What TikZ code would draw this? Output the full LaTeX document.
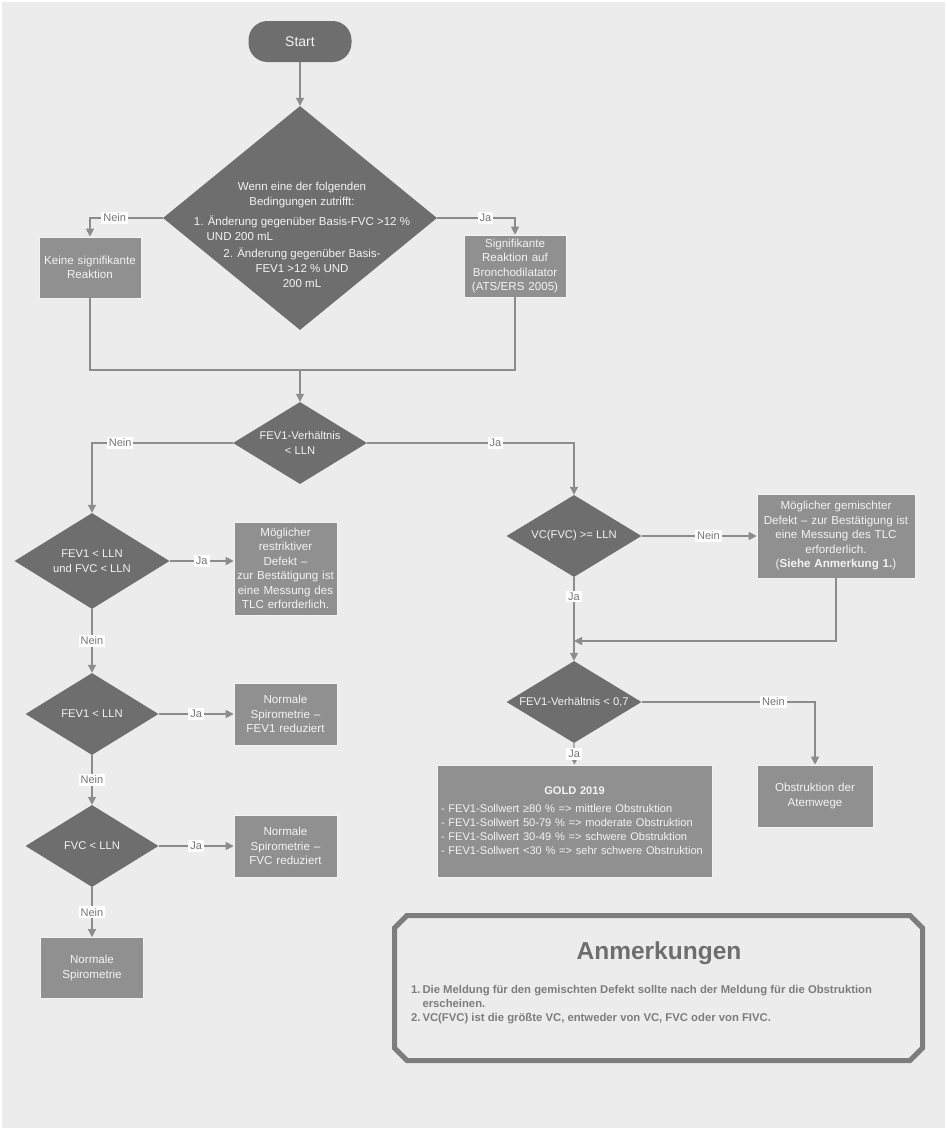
\documentclass[tikz,border=0pt]{standalone}
\usepackage{fontspec}
\setmainfont{Liberation Sans}
\usetikzlibrary{positioning,arrows.meta,shapes.geometric}
\definecolor{PageGray}{RGB}{236,236,236}
\definecolor{DarkShape}{RGB}{110,110,110}
\definecolor{BoxFill}{RGB}{144,144,144}
\definecolor{WireGray}{RGB}{140,140,140}
\definecolor{SoftWhite}{RGB}{243,243,243}
\definecolor{TagText}{RGB}{118,118,118}
\definecolor{NoteGray}{RGB}{125,125,125}
\tikzset{
  flow/.style={-{Triangle[length=8pt,width=8pt]},line width=1.2pt,draw=WireGray},
  wire/.style={line width=1.2pt,draw=WireGray},
  startbox/.style={rectangle,rounded corners=19pt,fill=DarkShape,text=SoftWhite,
    minimum width=103pt,minimum height=41pt,font=\fontsize{14}{16}\selectfont},
  decision/.style={diamond,fill=DarkShape,text=SoftWhite,inner sep=0pt,aspect=1.6,
    align=center,font=\fontsize{11.2}{14.5}\selectfont},
  dtext/.style={text=SoftWhite,align=center,inner sep=0pt,font=\fontsize{11.5}{15}\selectfont},
  box/.style={rectangle,fill=BoxFill,draw=SoftWhite,line width=0.6pt,text=SoftWhite,
    inner sep=2pt,align=center,font=\fontsize{11.6}{14.5}\selectfont},
  tag/.style={fill=white,text=TagText,inner sep=2pt,font=\fontsize{11}{12}\selectfont},
  noteline/.style={draw=NoteGray,line width=5pt},
  notetitle/.style={text=DarkShape,font=\bfseries\fontsize{24.5}{28}\selectfont},
  notetext/.style={text=NoteGray,inner sep=0pt,font=\bfseries\fontsize{11.3}{14}\selectfont}
}
\begin{document}
\begin{tikzpicture}[x=1pt,y=-1pt]
  \useasboundingbox (0,0) rectangle (947,1130);
  \fill[white] (0,0) rectangle (947,1130);
  \fill[PageGray] (2,2) rectangle (945,1128);

  % bronchodilator test
  \node[startbox] (start) at (300,41.5) {Start};
  \node[decision,minimum width=274pt,minimum height=224pt] (d1) at (300,218) {};
  \node[dtext] (d1t) at (302,235) {Wenn eine der folgenden\\Bedingungen zutrifft:\\[6pt]
    \begin{tabular}{@{}l@{}}1. Änderung gegenüber Basis-FVC >12 \%\\\hphantom{1.}\ UND 200 mL\end{tabular}\\[2pt]
    2. Änderung gegenüber Basis-\\FEV1 >12 \% UND\\200 mL};
  \node[box,minimum height=61pt,text width=98pt] (nosig) at (90,267.5) {Keine signifikante\\Reaktion};
  \node[box,minimum height=62pt,text width=98pt] (sig) at (515,266) {Signifikante\\Reaktion auf\\Bronchodilatator\\(ATS/ERS 2005)};
  \coordinate (merge) at (300,370);
  \draw[flow] (start) -- (d1);
  \draw[flow] (d1.west) -| node[tag,pos=0.33] (t1) {Nein} (nosig.north);
  \draw[flow] (d1.east) -| node[tag,pos=0.31] (t2) {Ja} (sig.north);
  \draw[wire] (nosig.south) |- (merge) -| (sig.south);

  % left column
  \node[decision,minimum width=134pt,minimum height=82pt] (d2) at (300,443) {FEV1-Verhältnis\\< LLN};
  \node[decision,minimum width=155pt,minimum height=96pt] (d3) at (92,561) {FEV1 < LLN\\und FVC < LLN};
  \node[box,minimum height=93pt,text width=99pt] (restr) at (285.5,568.5) {Möglicher\\restriktiver\\Defekt –\\zur Bestätigung ist\\eine Messung des\\TLC erforderlich.};
  \node[decision,minimum width=133pt,minimum height=82pt] (d5) at (92,714) {FEV1 < LLN};
  \node[box,minimum height=62pt,text width=99pt,right=75pt of d5] (fev1red) {Normale\\Spirometrie –\\FEV1 reduziert};
  \node[decision,minimum width=133pt,minimum height=82pt] (d6) at (92,846) {FVC < LLN};
  \node[box,minimum height=62pt,text width=99pt,right=75pt of d6] (fvcred) {Normale\\Spirometrie –\\FVC reduziert};
  \node[box,minimum height=61pt,text width=99pt,below=50pt of d6] (normal) {Normale\\Spirometrie};
  \draw[flow] (merge) -- (d2);
  \draw[flow] (d2.west) -| node[tag,pos=0.4] (t3) {Nein} (d3.north);
  \draw[flow] (d3.east) -- node[tag] (t4) {Ja} (d3.east -| restr.west);
  \draw[flow] (d3.south) -- node[tag] (t5) {Nein} (d5.north);
  \draw[flow] (d5.east) -- node[tag] (t6) {Ja} (fev1red.west);
  \draw[flow] (d5.south) -- node[tag] (t7) {Nein} (d6.north);
  \draw[flow] (d6.east) -- node[tag] (t8) {Ja} (fvcred.west);
  \draw[flow] (d6.south) -- node[tag] (t9) {Nein} (normal.north);

  % right column
  \node[decision,minimum width=135pt,minimum height=82pt] (d4) at (574,536) {VC(FVC) >= LLN};
  \node[box,minimum height=84pt,text width=154pt] (mixed) at (836,536) {Möglicher gemischter\\Defekt – zur Bestätigung ist\\eine Messung des TLC\\erforderlich.\\(\textbf{Siehe Anmerkung 1.})};
  \coordinate (join) at (574,641);
  \node[decision,minimum width=135pt,minimum height=82pt] (d7) at (574,702) {FEV1-Verhältnis < 0,7};
  \node[box,minimum height=112pt,text width=267pt,inner sep=4pt,align=left,font=\fontsize{11.1}{14}\selectfont] (gold) at (574.5,821) {\makebox[267pt]{\textbf{GOLD 2019}}\\[4pt]
    - FEV1-Sollwert ≥80 \% => mittlere Obstruktion\\
    - FEV1-Sollwert 50-79 \% => moderate Obstruktion\\
    - FEV1-Sollwert 30-49 \% => schwere Obstruktion\\
    - FEV1-Sollwert <30 \% => sehr schwere Obstruktion\\[8pt]};
  \node[box,minimum height=62pt,text width=112pt] (obstr) at (815,796) {Obstruktion der\\Atemwege};
  \draw[flow] (d2.east) -| node[tag,pos=0.31] (t10) {Ja} (d4.north);
  \draw[flow] (d4.east) -- node[tag,pos=0.58] (t11) {Nein} (mixed.west);
  \draw[flow] (d4.south) -- node[tag,pos=0.23] (t12) {Ja} (d7.north);
  \draw[flow] (mixed.south) |- (join);
  \draw[flow] (d7.east) -| node[tag,pos=0.38] (t13) {Nein} (obstr.north);
  \draw[flow] (d7.south) -- node[tag,pos=0.5] (t14) {Ja} (gold.north);

  % notes
  \draw[noteline] (407,915.5) -- (910,915.5) -- (922.5,928) -- (922.5,1048)
    -- (910,1060.5) -- (407,1060.5) -- (394.5,1048) -- (394.5,928) -- cycle;
  \node[notetitle] (ntitle) at (659,953) {Anmerkungen};
  \node[notetext,anchor=north west] (nlist) at (411,983) {\begin{tabular}{@{}l@{\,}l@{}}
    1. & Die Meldung für den gemischten Defekt sollte nach der Meldung für die Obstruktion\\
       & erscheinen.\\
    2. & VC(FVC) ist die größte VC, entweder von VC, FVC oder von FIVC.\end{tabular}};
\end{tikzpicture}
\end{document}
